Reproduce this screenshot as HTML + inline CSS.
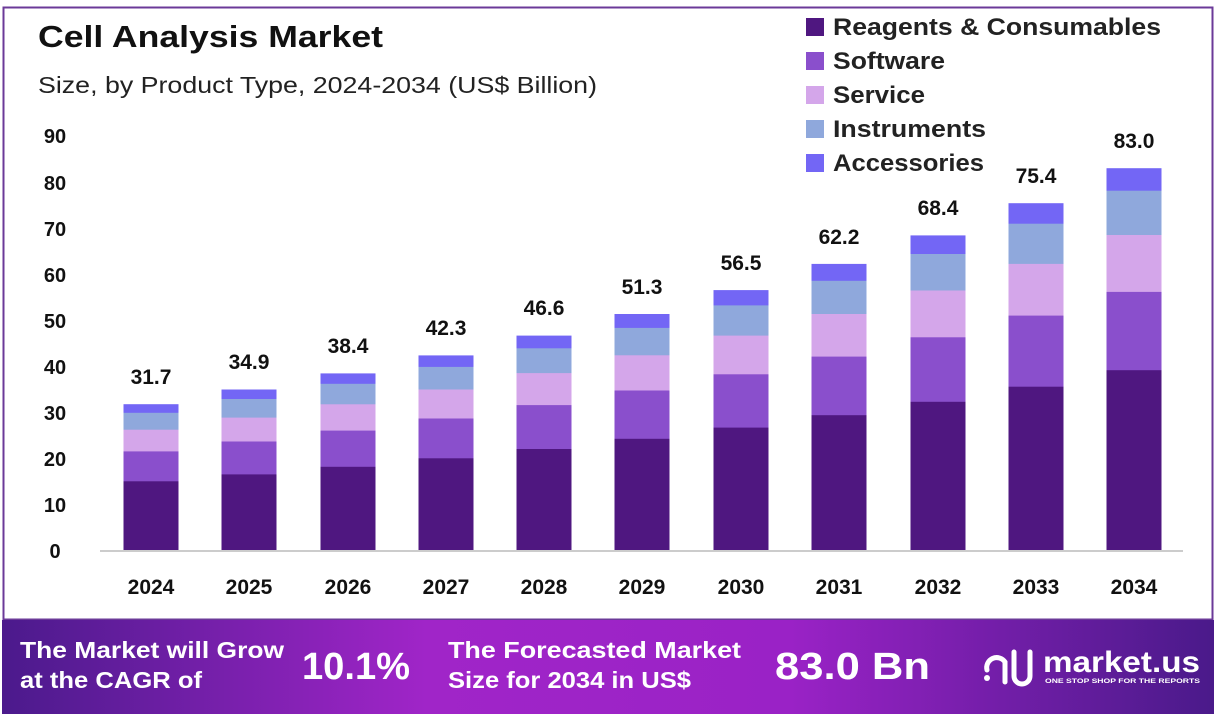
<!DOCTYPE html>
<html><head><meta charset="utf-8"><style>
body{margin:0;width:1216px;height:722px;background:#fff;overflow:hidden;font-family:"Liberation Sans",sans-serif}
</style></head><body>
<svg width="1216" height="722" viewBox="0 0 1216 722" xmlns="http://www.w3.org/2000/svg" font-family="Liberation Sans, sans-serif">
<defs>
<linearGradient id="fg" x1="0" x2="1" y1="0" y2="0">
<stop offset="0" stop-color="#4b1a8c"/><stop offset="0.35" stop-color="#a025c8"/><stop offset="0.65" stop-color="#9a22c6"/><stop offset="1" stop-color="#4a1a8a"/>
</linearGradient>
</defs>
<rect x="3.5" y="7.5" width="1209" height="612" fill="none" stroke="#6b3a98" stroke-width="2"/>
<text x="38" y="47" font-size="31" font-weight="bold" fill="#111" textLength="345" lengthAdjust="spacingAndGlyphs">Cell Analysis Market</text>
<text x="38" y="93" font-size="23" fill="#222" textLength="559" lengthAdjust="spacingAndGlyphs">Size, by Product Type, 2024-2034 (US$ Billion)</text>
<g font-size="20" font-weight="bold" fill="#111" text-anchor="middle">
<text x="55" y="143">90</text><text x="55" y="190">80</text><text x="55" y="236">70</text><text x="55" y="282">60</text><text x="55" y="328">50</text><text x="55" y="374">40</text><text x="55" y="420">30</text><text x="55" y="466">20</text><text x="55" y="512">10</text><text x="55" y="558">0</text>
</g>
<line x1="100" y1="551" x2="1183" y2="551" stroke="#ccc" stroke-width="2"/>
<g id="bars">
<g transform="translate(123.5,0)"><rect y="404.2" width="55" height="145.8" fill="#7366f5"/><rect y="412.8" width="55" height="137.2" fill="#8fa8dc"/><rect y="429.7" width="55" height="120.3" fill="#d4a6ea"/><rect y="451.4" width="55" height="98.6" fill="#8a4fcc"/><rect y="481.3" width="55" height="68.7" fill="#4f1780"/></g>
<g transform="translate(221.5,0)"><rect y="389.5" width="55" height="160.5" fill="#7366f5"/><rect y="399" width="55" height="151" fill="#8fa8dc"/><rect y="417.6" width="55" height="132.4" fill="#d4a6ea"/><rect y="441.5" width="55" height="108.5" fill="#8a4fcc"/><rect y="474.4" width="55" height="75.6" fill="#4f1780"/></g>
<g transform="translate(320.5,0)"><rect y="373.4" width="55" height="176.6" fill="#7366f5"/><rect y="383.8" width="55" height="166.2" fill="#8fa8dc"/><rect y="404.3" width="55" height="145.7" fill="#d4a6ea"/><rect y="430.6" width="55" height="119.4" fill="#8a4fcc"/><rect y="466.8" width="55" height="83.2" fill="#4f1780"/></g>
<g transform="translate(418.5,0)"><rect y="355.4" width="55" height="194.6" fill="#7366f5"/><rect y="366.9" width="55" height="183.1" fill="#8fa8dc"/><rect y="389.5" width="55" height="160.5" fill="#d4a6ea"/><rect y="418.5" width="55" height="131.5" fill="#8a4fcc"/><rect y="458.3" width="55" height="91.7" fill="#4f1780"/></g>
<g transform="translate(516.5,0)"><rect y="335.6" width="55" height="214.4" fill="#7366f5"/><rect y="348.3" width="55" height="201.7" fill="#8fa8dc"/><rect y="373.1" width="55" height="176.9" fill="#d4a6ea"/><rect y="405.1" width="55" height="144.9" fill="#8a4fcc"/><rect y="449" width="55" height="101" fill="#4f1780"/></g>
<g transform="translate(614.5,0)"><rect y="314" width="55" height="236" fill="#7366f5"/><rect y="327.9" width="55" height="222.1" fill="#8fa8dc"/><rect y="355.3" width="55" height="194.7" fill="#d4a6ea"/><rect y="390.5" width="55" height="159.5" fill="#8a4fcc"/><rect y="438.8" width="55" height="111.2" fill="#4f1780"/></g>
<g transform="translate(713.5,0)"><rect y="290.1" width="55" height="259.9" fill="#7366f5"/><rect y="305.4" width="55" height="244.6" fill="#8fa8dc"/><rect y="335.6" width="55" height="214.4" fill="#d4a6ea"/><rect y="374.3" width="55" height="175.7" fill="#8a4fcc"/><rect y="427.6" width="55" height="122.4" fill="#4f1780"/></g>
<g transform="translate(811.5,0)"><rect y="263.9" width="55" height="286.1" fill="#7366f5"/><rect y="280.8" width="55" height="269.2" fill="#8fa8dc"/><rect y="314" width="55" height="236" fill="#d4a6ea"/><rect y="356.6" width="55" height="193.4" fill="#8a4fcc"/><rect y="415.2" width="55" height="134.8" fill="#4f1780"/></g>
<g transform="translate(910.5,0)"><rect y="235.4" width="55" height="314.6" fill="#7366f5"/><rect y="254" width="55" height="296" fill="#8fa8dc"/><rect y="290.5" width="55" height="259.5" fill="#d4a6ea"/><rect y="337.3" width="55" height="212.7" fill="#8a4fcc"/><rect y="401.8" width="55" height="148.2" fill="#4f1780"/></g>
<g transform="translate(1008.5,0)"><rect y="203.2" width="55" height="346.8" fill="#7366f5"/><rect y="223.7" width="55" height="326.3" fill="#8fa8dc"/><rect y="263.9" width="55" height="286.1" fill="#d4a6ea"/><rect y="315.6" width="55" height="234.4" fill="#8a4fcc"/><rect y="386.7" width="55" height="163.3" fill="#4f1780"/></g>
<g transform="translate(1106.5,0)"><rect y="168.2" width="55" height="381.8" fill="#7366f5"/><rect y="190.7" width="55" height="359.3" fill="#8fa8dc"/><rect y="235" width="55" height="315" fill="#d4a6ea"/><rect y="291.9" width="55" height="258.1" fill="#8a4fcc"/><rect y="370.2" width="55" height="179.8" fill="#4f1780"/></g>
</g>
<g font-size="21" font-weight="bold" fill="#111" text-anchor="middle">
<text x="151" y="384">31.7</text><text x="249" y="369">34.9</text><text x="348" y="353">38.4</text><text x="446" y="335">42.3</text><text x="544" y="315">46.6</text><text x="642" y="294">51.3</text><text x="741" y="270">56.5</text><text x="839" y="244">62.2</text><text x="938" y="215">68.4</text><text x="1036" y="183">75.4</text><text x="1134" y="148">83.0</text>
</g>
<g font-size="21" font-weight="bold" fill="#111" text-anchor="middle">
<text x="151" y="594">2024</text><text x="249" y="594">2025</text><text x="348" y="594">2026</text><text x="446" y="594">2027</text><text x="544" y="594">2028</text><text x="642" y="594">2029</text><text x="741" y="594">2030</text><text x="839" y="594">2031</text><text x="938" y="594">2032</text><text x="1036" y="594">2033</text><text x="1134" y="594">2034</text>
</g>
<g font-size="24" font-weight="bold" fill="#222">
<rect x="806" y="18" width="18" height="18" fill="#4f1780"/><text x="833" y="35" textLength="328" lengthAdjust="spacingAndGlyphs">Reagents &amp; Consumables</text>
<rect x="806" y="52" width="18" height="18" fill="#8a4fcc"/><text x="833" y="69" textLength="112" lengthAdjust="spacingAndGlyphs">Software</text>
<rect x="806" y="86" width="18" height="18" fill="#d4a6ea"/><text x="833" y="103" textLength="92" lengthAdjust="spacingAndGlyphs">Service</text>
<rect x="806" y="120" width="18" height="18" fill="#8fa8dc"/><text x="833" y="137" textLength="153" lengthAdjust="spacingAndGlyphs">Instruments</text>
<rect x="806" y="154" width="18" height="18" fill="#7366f5"/><text x="833" y="171" textLength="151" lengthAdjust="spacingAndGlyphs">Accessories</text>
</g>
<rect x="2" y="620" width="1212" height="94" fill="url(#fg)"/>
<g fill="#fff" font-weight="bold">
<text x="20" y="658" font-size="23" textLength="264" lengthAdjust="spacingAndGlyphs">The Market will Grow</text>
<text x="20" y="688" font-size="23" textLength="182" lengthAdjust="spacingAndGlyphs">at the CAGR of</text>
<text x="302" y="679" font-size="38" textLength="108" lengthAdjust="spacingAndGlyphs">10.1%</text>
<text x="448" y="658" font-size="23" textLength="293" lengthAdjust="spacingAndGlyphs">The Forecasted Market</text>
<text x="448" y="688" font-size="23" textLength="243" lengthAdjust="spacingAndGlyphs">Size for 2034 in US$</text>
<text x="775" y="679" font-size="38" textLength="155" lengthAdjust="spacingAndGlyphs">83.0 Bn</text>
<text x="1043" y="672" font-size="30" textLength="157" lengthAdjust="spacingAndGlyphs">market.us</text>
<text x="1045" y="683" font-size="6.5" textLength="155" lengthAdjust="spacingAndGlyphs">ONE STOP SHOP FOR THE REPORTS</text>
</g>
<g fill="none" stroke="#fff" stroke-width="5" stroke-linecap="round">
<path d="M987 670 a10 10 0 0 1 18 -8 v20"/><path d="M1014 652 v24 a8 8 0 0 0 16 0 v-24"/>
</g>
<circle cx="987" cy="678" r="3" fill="#fff"/>
</svg>
</body></html>
